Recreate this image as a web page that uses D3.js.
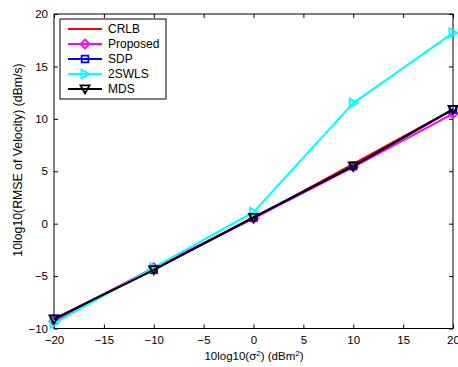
<!DOCTYPE html>
<html><head><meta charset="utf-8">
<script src="https://cdn.jsdelivr.net/npm/d3@7"></script>
<style>body{margin:0;background:#fff}svg{display:block;font-family:"Liberation Sans",Arial,sans-serif}</style>
</head><body><svg id="c" width="458" height="367"></svg>
<script>
const xValues = [-20, -10, 0, 10, 20];
const crlb     = [-9.1, -4.3, 0.5, 5.7, 10.9];
const proposed = [-9.3, -4.2, 0.5, 5.4, 10.5];
const sdp      = [-9.1, -4.4, 0.6, 5.5, 10.9];
const swls2    = [-9.5, -4.2, 1.1, 11.5, 18.2];
const mds      = [-9.1, -4.4, 0.6, 5.5, 10.9];
const xTicks = [-20, -15, -10, -5, 0, 5, 10, 15, 20];
const yTicks = [-10, -5, 0, 5, 10, 15, 20];
const seriesNames = ["CRLB", "Proposed", "SDP", "2SWLS", "MDS"];

const series = [
  {name: seriesNames[0], values: crlb, color: "#ff0000", marker: null},
  {name: seriesNames[1], values: proposed, color: "#ff00ff", marker: "diamond"},
  {name: seriesNames[2], values: sdp, color: "#0000ff", marker: "square"},
  {name: seriesNames[3], values: swls2, color: "#00ffff", marker: "right"},
  {name: seriesNames[4], values: mds, color: "#000000", marker: "down"}
];

const L = 54, R = 453, T = 14, B = 328.5;
const svg = d3.select("#c");
const x = d3.scaleLinear().domain([-20, 20]).range([L, R]);
const y = d3.scaleLinear().domain([-10, 20]).range([B, T]);

const fmt = d => d < 0 ? "\u2212" + Math.abs(d) : String(d);
svg.append("g").attr("transform", `translate(0,${B})`)
  .call(d3.axisBottom(x).tickValues(xTicks).tickSize(-4).tickPadding(7).tickFormat(fmt))
  .call(g => { g.select(".domain").remove(); g.selectAll("text").attr("font-size", 11.5).attr("fill", "#000"); g.selectAll("line").attr("stroke", "#000"); });
svg.append("g").attr("transform", `translate(0,${T})`)
  .call(d3.axisTop(x).tickValues(xTicks).tickSize(-4).tickFormat(""))
  .call(g => { g.select(".domain").remove(); g.selectAll("line").attr("stroke", "#000"); });
svg.append("g").attr("transform", `translate(${L},0)`)
  .call(d3.axisLeft(y).tickValues(yTicks).tickSize(-4).tickPadding(6).tickFormat(fmt))
  .call(g => { g.select(".domain").remove(); g.selectAll("text").attr("font-size", 11.5).attr("fill", "#000"); g.selectAll("line").attr("stroke", "#000"); });
svg.append("g").attr("transform", `translate(${R},0)`)
  .call(d3.axisRight(y).tickValues(yTicks).tickSize(-4).tickFormat(""))
  .call(g => { g.select(".domain").remove(); g.selectAll("line").attr("stroke", "#000"); });
svg.append("rect").attr("x", L).attr("y", T).attr("width", R - L).attr("height", B - T)
  .attr("fill", "none").attr("stroke", "#000").attr("stroke-width", 1);

function markerPath(type, s) {
  if (type === "diamond") return `M0,${-s}L${s},0L0,${s}L${-s},0Z`;
  if (type === "square") { const h = s * 0.75; return `M${-h},${-h}H${h}V${h}H${-h}Z`; }
  if (type === "right") return `M${-s*0.8},${-s}L${s},0L${-s*0.8},${s}Z`;
  if (type === "down") return `M${-s},${-s*0.8}H${s}L0,${s}Z`;
  return null;
}

const line = d3.line().x(d => x(d[0])).y(d => y(d[1]));
const plot = svg.append("g");
series.forEach(s => {
  const pts = xValues.map((v, i) => [v, s.values[i]]);
  plot.append("path").attr("d", line(pts)).attr("fill", "none")
    .attr("stroke", s.color).attr("stroke-width", 2);
  if (s.marker) {
    plot.selectAll(null).data(pts).enter().append("path")
      .attr("transform", d => `translate(${x(d[0])},${y(d[1])})`)
      .attr("d", markerPath(s.marker, 4.5))
      .attr("fill", "none").attr("stroke", s.color).attr("stroke-width", 1.8);
  }
});

const lg = svg.append("g");
lg.append("rect").attr("x", 60).attr("y", 19).attr("width", 106).attr("height", 80)
  .attr("fill", "#fff").attr("stroke", "#000").attr("stroke-width", 1);
series.forEach((s, i) => {
  const yy = 29 + i * 15;
  lg.append("line").attr("x1", 68).attr("x2", 102).attr("y1", yy).attr("y2", yy)
    .attr("stroke", s.color).attr("stroke-width", 2);
  if (s.marker) lg.append("path").attr("transform", `translate(85,${yy})`)
    .attr("d", markerPath(s.marker, 4.5)).attr("fill", "none").attr("stroke", s.color).attr("stroke-width", 1.8);
  lg.append("text").attr("x", 108).attr("y", yy + 4).attr("font-size", 12).text(s.name);
});

const xl = svg.append("text").attr("x", 254).attr("y", 360).attr("text-anchor", "middle").attr("font-size", 11.5);
xl.append("tspan").text("10log10(\u03c3");
xl.append("tspan").attr("dy", -4).attr("font-size", 8).text("2");
xl.append("tspan").attr("dy", 4).text(") (dBm");
xl.append("tspan").attr("dy", -4).attr("font-size", 8).text("2");
xl.append("tspan").attr("dy", 4).text(")");
svg.append("text").attr("transform", "translate(22,160) rotate(-90)").attr("text-anchor", "middle")
  .attr("font-size", 12.3).text("10log10(RMSE of Velocity) (dBm/s)");
</script></body></html>
